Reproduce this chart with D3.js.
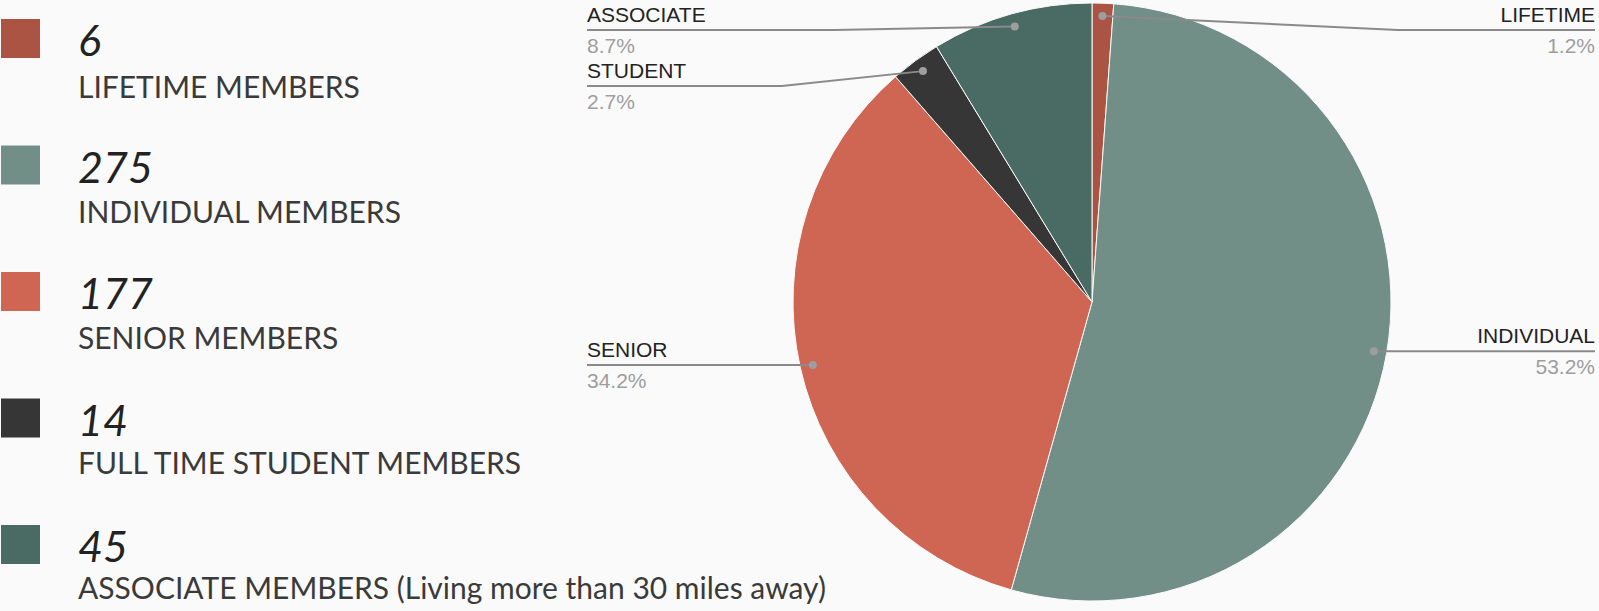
<!DOCTYPE html>
<html>
<head>
<meta charset="utf-8">
<script src="https://cdn.jsdelivr.net/npm/d3@7"></script>
<style>
  body { margin: 0; background: #fafafa; }
  svg { display: block; }
</style>
</head>
<body>
<div id="chart"></div>
<script>
// data
var keys = ["LIFETIME", "INDIVIDUAL", "SENIOR", "STUDENT", "ASSOCIATE"];
var counts = [6, 275, 177, 14, 45];
var legendNames = ["LIFETIME MEMBERS", "INDIVIDUAL MEMBERS", "SENIOR MEMBERS",
  "FULL TIME STUDENT MEMBERS", "ASSOCIATE MEMBERS (Living more than 30 miles away)"];
var colors = ["#ab5444", "#728f87", "#cf6553", "#363636", "#4a6b63"];

var width = 1599, height = 611;
var svg = d3.select("#chart").append("svg").attr("width", width).attr("height", height)
  .style("background", "#fafafa");

var total = d3.sum(counts);
var slices = keys.map(function(k, i){ return {key: k, value: counts[i], color: colors[i], i: i}; });

//legend
var ly = d3.scaleLinear().domain([0, 4]).range([19, 525]);
var legend = svg.append("g").selectAll("g").data(slices).enter().append("g");
legend.append("rect")
  .attr("x", 1).attr("y", function(d){ return ly(d.i); })
  .attr("width", 39).attr("height", 39)
  .attr("fill", function(d){ return d.color; });
legend.append("text")
  .attr("x", 78).attr("y", function(d){ return ly(d.i) + 37; })
  .attr("font-family", "Lato").attr("font-style", "italic").attr("font-size", 43)
  .attr("fill", "#222")
  .text(function(d){ return d.value; });
legend.append("text")
  .attr("x", 78).attr("y", function(d){ return 98 + d.i * 125.3; })
  .attr("font-family", "Lato").attr("font-size", 30)
  .attr("fill", "#3a3a3a")
  .text(function(d){ return legendNames[d.i]; });

// pie
var cx = 1092, cy = 302, R = 299;
var pie = d3.pie().sort(null).value(function(d){ return d.value; });
var arcs = pie(slices);
var arc = d3.arc().innerRadius(0).outerRadius(R);
var dotArc = d3.arc().innerRadius(R * 0.957).outerRadius(R * 0.957);

var g = svg.append("g").attr("transform", "translate(" + cx + "," + cy + ")");
g.selectAll("path").data(arcs).enter().append("path")
  .attr("d", arc)
  .attr("fill", function(d){ return d.data.color; })
  .attr("stroke", "#fafafa").attr("stroke-width", 1);

// label layout
var leftX = 587, rightX = 1595;
arcs.forEach(function(a){
  var c = dotArc.centroid(a);
  a.dx = cx + c[0]; a.dy = cy + c[1];
  a.side = c[0] < 0 ? "left" : "right";
});
["left", "right"].forEach(function(side){
  var prev = -Infinity;
  arcs.filter(function(a){ return a.side == side; })
    .sort(function(a, b){ return a.dy - b.dy; })
    .forEach(function(a){
      a.ly = Math.max(a.dy, prev + 56, 30);
      prev = a.ly;
    });
});

var labels = svg.append("g").selectAll("g").data(arcs).enter().append("g");
labels.append("path")
  .attr("fill", "none").attr("stroke", "#8a8a8a").attr("stroke-width", 2)
  .attr("d", function(a){
    var endX = a.side == "left" ? leftX : rightX;
    var elbow = a.side == "left" ? endX + (a.dx - endX) * 0.58 : a.dx + (endX - a.dx) * 0.6;
    return "M" + a.dx + "," + a.dy + "L" + elbow + "," + a.ly + "L" + endX + "," + a.ly;
  });
labels.append("circle")
  .attr("cx", function(a){ return a.dx; }).attr("cy", function(a){ return a.dy; })
  .attr("r", 4).attr("fill", "#9e9e9e");
labels.append("text")
  .attr("x", function(a){ return a.side == "left" ? leftX : rightX; })
  .attr("y", function(a){ return a.ly - 8; })
  .attr("text-anchor", function(a){ return a.side == "left" ? "start" : "end"; })
  .attr("font-family", "Liberation Sans, Arial").attr("font-size", 21)
  .attr("fill", "#222")
  .text(function(a){ return a.data.key; });
labels.append("text")
  .attr("x", function(a){ return a.side == "left" ? leftX : rightX; })
  .attr("y", function(a){ return a.ly + 23; })
  .attr("text-anchor", function(a){ return a.side == "left" ? "start" : "end"; })
  .attr("font-family", "Liberation Sans, Arial").attr("font-size", 21)
  .attr("fill", "#9e9e9e")
  .text(function(a){ return (a.value / total * 100).toFixed(1) + "%"; });
</script>
</body>
</html>
